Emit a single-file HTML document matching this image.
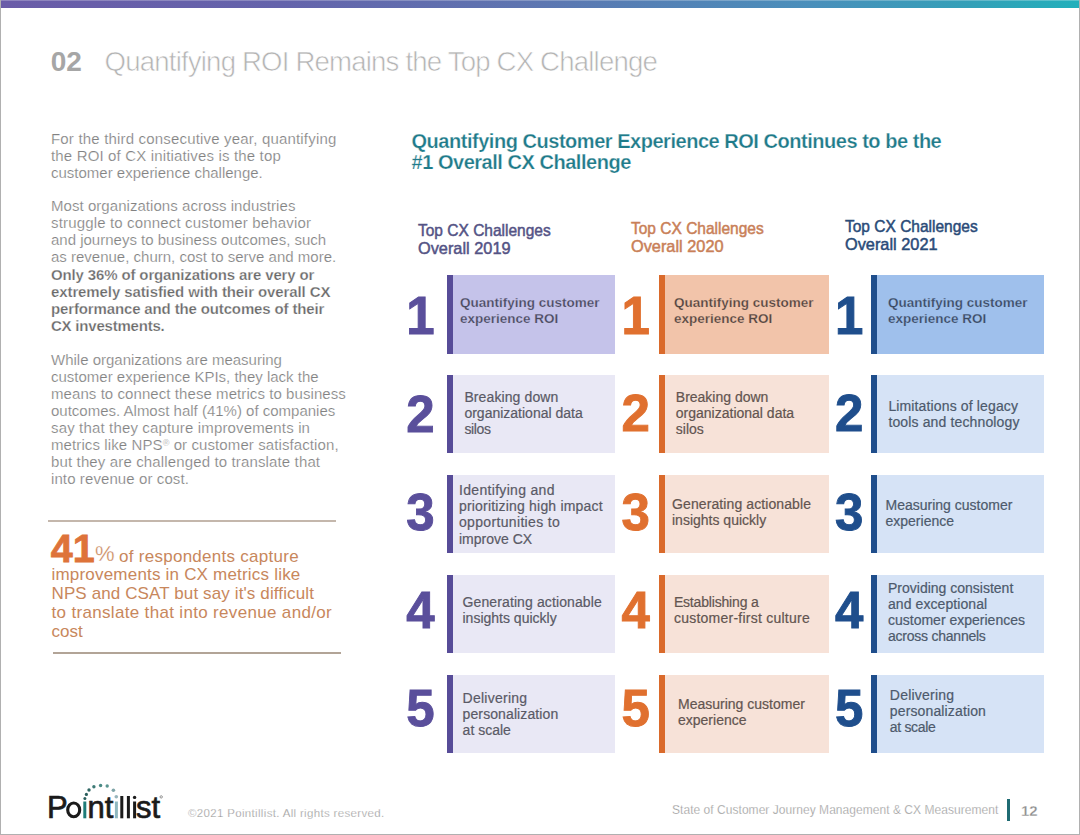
<!DOCTYPE html>
<html><head><meta charset="utf-8"><style>
html,body{margin:0;padding:0;background:#fff;}
body{width:1080px;height:835px;position:relative;overflow:hidden;font-family:"Liberation Sans", sans-serif;}
.t{position:absolute;white-space:pre;}
.r{position:absolute;}
</style></head><body>
<div class="r" style="left:0px;top:0px;width:1080px;height:8px;background:linear-gradient(90deg,#6a5ca8 0%,#6463ab 26%,#5e74b0 48%,#4a8fbb 75%,#33a0b8 90%,#22b0bb 100%);"></div>
<div class="r" style="left:0px;top:0px;width:1080px;height:1px;background:rgba(255,255,255,0.25);"></div>
<div class="r" style="left:0px;top:0px;width:1px;height:835px;background:#b0b0b0;"></div>
<div class="r" style="left:1079px;top:0px;width:1px;height:835px;background:#b0b0b0;"></div>
<div class="r" style="left:0px;top:834px;width:1080px;height:1px;background:#b0b0b0;"></div>
<div class="t" style="left:50.80px;top:47.10px;font-size:28px;line-height:30px;color:#a6a6a6;font-weight:700;">02</div>
<div class="t" style="left:104.60px;top:47.24px;font-size:27.6px;line-height:30px;color:#b4b4b4;font-weight:400;letter-spacing:-0.82px;-webkit-text-stroke:0.6px #fff;">Quantifying ROI Remains the Top CX Challenge</div>
<div class="t" style="left:51.00px;top:129.90px;font-size:15px;line-height:17px;color:#828282;font-weight:400;-webkit-text-stroke:0.2px #fff;letter-spacing:0.181px;">For the third consecutive year, quantifying</div>
<div class="t" style="left:51.00px;top:146.90px;font-size:15px;line-height:17px;color:#828282;font-weight:400;-webkit-text-stroke:0.2px #fff;letter-spacing:0.157px;">the ROI of CX initiatives is the top</div>
<div class="t" style="left:51.00px;top:163.90px;font-size:15px;line-height:17px;color:#828282;font-weight:400;-webkit-text-stroke:0.2px #fff;letter-spacing:0.000px;">customer experience challenge.</div>
<div class="t" style="left:51.00px;top:197.30px;font-size:15px;line-height:17px;color:#828282;font-weight:400;-webkit-text-stroke:0.2px #fff;letter-spacing:0.051px;">Most organizations across industries</div>
<div class="t" style="left:51.00px;top:214.30px;font-size:15px;line-height:17px;color:#828282;font-weight:400;-webkit-text-stroke:0.2px #fff;letter-spacing:0.158px;">struggle to connect customer behavior</div>
<div class="t" style="left:51.00px;top:231.30px;font-size:15px;line-height:17px;color:#828282;font-weight:400;-webkit-text-stroke:0.2px #fff;letter-spacing:0.000px;">and journeys to business outcomes, such</div>
<div class="t" style="left:51.00px;top:248.30px;font-size:15px;line-height:17px;color:#828282;font-weight:400;-webkit-text-stroke:0.2px #fff;letter-spacing:0.000px;">as revenue, churn, cost to serve and more.</div>
<div class="t" style="left:51.00px;top:266.30px;font-size:15px;line-height:17px;color:#6a6a6a;font-weight:700;-webkit-text-stroke:0.25px #fff;letter-spacing:-0.139px;">Only 36% of organizations are very or</div>
<div class="t" style="left:51.00px;top:283.30px;font-size:15px;line-height:17px;color:#6a6a6a;font-weight:700;-webkit-text-stroke:0.25px #fff;letter-spacing:-0.100px;">extremely satisfied with their overall CX</div>
<div class="t" style="left:51.00px;top:300.30px;font-size:15px;line-height:17px;color:#6a6a6a;font-weight:700;-webkit-text-stroke:0.25px #fff;letter-spacing:-0.139px;">performance and the outcomes of their</div>
<div class="t" style="left:51.00px;top:317.30px;font-size:15px;line-height:17px;color:#6a6a6a;font-weight:700;-webkit-text-stroke:0.25px #fff;letter-spacing:-0.214px;">CX investments.</div>
<div class="t" style="left:51.00px;top:350.50px;font-size:15px;line-height:17px;color:#828282;font-weight:400;-webkit-text-stroke:0.2px #fff;letter-spacing:0.000px;">While organizations are measuring</div>
<div class="t" style="left:51.00px;top:367.50px;font-size:15px;line-height:17px;color:#828282;font-weight:400;-webkit-text-stroke:0.2px #fff;letter-spacing:0.000px;">customer experience KPIs, they lack the</div>
<div class="t" style="left:51.00px;top:384.50px;font-size:15px;line-height:17px;color:#828282;font-weight:400;-webkit-text-stroke:0.2px #fff;letter-spacing:0.073px;">means to connect these metrics to business</div>
<div class="t" style="left:51.00px;top:401.50px;font-size:15px;line-height:17px;color:#828282;font-weight:400;-webkit-text-stroke:0.2px #fff;letter-spacing:0.000px;">outcomes. Almost half (41%) of companies</div>
<div class="t" style="left:51.00px;top:418.50px;font-size:15px;line-height:17px;color:#828282;font-weight:400;-webkit-text-stroke:0.2px #fff;letter-spacing:0.153px;">say that they capture improvements in</div>
<div class="t" style="left:51.00px;top:435.50px;font-size:15px;line-height:17px;color:#828282;font-weight:400;-webkit-text-stroke:0.2px #fff;letter-spacing:0.100px;">metrics like NPS<span style="font-size:9px;vertical-align:4px;line-height:0">®</span> or customer satisfaction,</div>
<div class="t" style="left:51.00px;top:452.50px;font-size:15px;line-height:17px;color:#828282;font-weight:400;-webkit-text-stroke:0.2px #fff;letter-spacing:0.138px;">but they are challenged to translate that</div>
<div class="t" style="left:51.00px;top:469.50px;font-size:15px;line-height:17px;color:#828282;font-weight:400;-webkit-text-stroke:0.2px #fff;letter-spacing:0.100px;">into revenue or cost.</div>
<div class="r" style="left:48px;top:520px;width:288px;height:2px;background:#c4b7ac;"></div>
<div class="r" style="left:53px;top:652px;width:288px;height:1.5px;background:#b2a497;"></div>
<div class="t" style="left:50.80px;top:527.71px;font-size:39.5px;line-height:40px;color:#de733a;font-weight:700;-webkit-text-stroke:0.8px #de733a;">41</div>
<div class="t" style="left:95.00px;top:542.08px;font-size:22px;line-height:24px;color:#c8875c;font-weight:400;-webkit-text-stroke:0.3px #fff;">%</div>
<div class="t" style="left:119.00px;top:546.61px;font-size:17px;line-height:19px;color:#c8875c;font-weight:400;letter-spacing:0.276px;">of respondents capture</div>
<div class="t" style="left:51.50px;top:565.83px;font-size:17px;line-height:18.95px;color:#c8875c;font-weight:400;letter-spacing:0.200px;">improvements in CX metrics like</div>
<div class="t" style="left:51.50px;top:584.78px;font-size:17px;line-height:18.95px;color:#c8875c;font-weight:400;letter-spacing:0.118px;">NPS and CSAT but say it's difficult</div>
<div class="t" style="left:51.50px;top:603.73px;font-size:17px;line-height:18.95px;color:#c8875c;font-weight:400;letter-spacing:0.328px;">to translate that into revenue and/or</div>
<div class="t" style="left:51.50px;top:622.68px;font-size:17px;line-height:18.95px;color:#c8875c;font-weight:400;letter-spacing:0.000px;">cost</div>
<div class="t" style="left:411.50px;top:130.87px;font-size:20px;line-height:21px;color:#1f7b8a;font-weight:700;letter-spacing:-0.47px;-webkit-text-stroke:0.25px #fff;">Quantifying Customer Experience ROI Continues to be the<br>#1 Overall CX Challenge</div>
<div class="t" style="left:417.60px;top:222.21px;font-size:17px;line-height:17.8px;color:#545385;font-weight:400;transform:scaleX(0.912);transform-origin:0 0;-webkit-text-stroke:0.5px #545385;">Top CX Challenges</div>
<div class="t" style="left:417.60px;top:240.31px;font-size:17px;line-height:17.8px;color:#545385;font-weight:400;transform:scaleX(0.96);transform-origin:0 0;-webkit-text-stroke:0.5px #545385;">Overall 2019</div>
<div class="r" style="left:447px;top:275px;width:168px;height:79px;background:#c5c3ea;"></div>
<div class="r" style="left:447px;top:275px;width:6px;height:79px;background:#574c98;"></div>
<div class="t num" style="left:390.5px;width:60px;text-align:center;top:290.58px;font-size:51px;line-height:52px;color:#5a4f9b;font-weight:700;-webkit-text-stroke:0.9px #5a4f9b"><span style="display:inline-block;transform:scaleY(1.05);transform-origin:50% 84%">1</span></div>
<div class="t" style="left:460.00px;top:295.17px;font-size:13.5px;line-height:16.3px;color:#4a4a5c;font-weight:700;-webkit-text-stroke:0.25px #c5c3ea;letter-spacing:0.000px;">Quantifying customer</div>
<div class="t" style="left:460.00px;top:311.47px;font-size:13.5px;line-height:16.3px;color:#4a4a5c;font-weight:700;-webkit-text-stroke:0.25px #c5c3ea;letter-spacing:0.000px;">experience ROI</div>
<div class="r" style="left:447px;top:375px;width:168px;height:78px;background:#e9e8f5;"></div>
<div class="r" style="left:447px;top:375px;width:6px;height:78px;background:#574c98;"></div>
<div class="t num" style="left:390.5px;width:60px;text-align:center;top:388.78px;font-size:51px;line-height:52px;color:#5a4f9b;font-weight:700;-webkit-text-stroke:0.9px #5a4f9b">2</div>
<div class="t" style="left:464.40px;top:389.00px;font-size:14px;line-height:16.1px;color:#5a5a66;font-weight:400;-webkit-text-stroke:0.2px #5a5a66;letter-spacing:0.108px;">Breaking down</div>
<div class="t" style="left:464.40px;top:405.10px;font-size:14px;line-height:16.1px;color:#5a5a66;font-weight:400;-webkit-text-stroke:0.2px #5a5a66;letter-spacing:0.000px;">organizational data</div>
<div class="t" style="left:464.40px;top:421.20px;font-size:14px;line-height:16.1px;color:#5a5a66;font-weight:400;-webkit-text-stroke:0.2px #5a5a66;letter-spacing:-0.350px;">silos</div>
<div class="r" style="left:447px;top:475px;width:168px;height:78px;background:#e9e8f5;"></div>
<div class="r" style="left:447px;top:475px;width:6px;height:78px;background:#574c98;"></div>
<div class="t num" style="left:390.5px;width:60px;text-align:center;top:486.58px;font-size:51px;line-height:52px;color:#5a4f9b;font-weight:700;-webkit-text-stroke:0.9px #5a4f9b">3</div>
<div class="t" style="left:459.00px;top:482.20px;font-size:14px;line-height:16.1px;color:#5a5a66;font-weight:400;-webkit-text-stroke:0.2px #5a5a66;letter-spacing:0.314px;">Identifying and</div>
<div class="t" style="left:459.00px;top:498.30px;font-size:14px;line-height:16.1px;color:#5a5a66;font-weight:400;-webkit-text-stroke:0.2px #5a5a66;letter-spacing:0.187px;">prioritizing high impact</div>
<div class="t" style="left:459.00px;top:514.40px;font-size:14px;line-height:16.1px;color:#5a5a66;font-weight:400;-webkit-text-stroke:0.2px #5a5a66;letter-spacing:0.333px;">opportunities to</div>
<div class="t" style="left:459.00px;top:530.50px;font-size:14px;line-height:16.1px;color:#5a5a66;font-weight:400;-webkit-text-stroke:0.2px #5a5a66;letter-spacing:0.000px;">improve CX</div>
<div class="r" style="left:447px;top:575px;width:168px;height:78px;background:#e9e8f5;"></div>
<div class="r" style="left:447px;top:575px;width:6px;height:78px;background:#574c98;"></div>
<div class="t num" style="left:390.5px;width:60px;text-align:center;top:585.38px;font-size:51px;line-height:52px;color:#5a4f9b;font-weight:700;-webkit-text-stroke:0.9px #5a4f9b">4</div>
<div class="t" style="left:462.50px;top:594.30px;font-size:14px;line-height:16.1px;color:#5a5a66;font-weight:400;-webkit-text-stroke:0.2px #5a5a66;letter-spacing:0.115px;">Generating actionable</div>
<div class="t" style="left:462.50px;top:610.40px;font-size:14px;line-height:16.1px;color:#5a5a66;font-weight:400;-webkit-text-stroke:0.2px #5a5a66;letter-spacing:0.000px;">insights quickly</div>
<div class="r" style="left:447px;top:675px;width:168px;height:78px;background:#e9e8f5;"></div>
<div class="r" style="left:447px;top:675px;width:6px;height:78px;background:#574c98;"></div>
<div class="t num" style="left:390.5px;width:60px;text-align:center;top:682.58px;font-size:51px;line-height:52px;color:#5a4f9b;font-weight:700;-webkit-text-stroke:0.9px #5a4f9b">5</div>
<div class="t" style="left:462.60px;top:689.80px;font-size:14px;line-height:16.1px;color:#5a5a66;font-weight:400;-webkit-text-stroke:0.2px #5a5a66;letter-spacing:0.256px;">Delivering</div>
<div class="t" style="left:462.60px;top:705.90px;font-size:14px;line-height:16.1px;color:#5a5a66;font-weight:400;-webkit-text-stroke:0.2px #5a5a66;letter-spacing:0.100px;">personalization</div>
<div class="t" style="left:462.60px;top:722.00px;font-size:14px;line-height:16.1px;color:#5a5a66;font-weight:400;-webkit-text-stroke:0.2px #5a5a66;letter-spacing:0.000px;">at scale</div>
<div class="t" style="left:631.20px;top:219.81px;font-size:17px;line-height:17.8px;color:#c98058;font-weight:400;transform:scaleX(0.912);transform-origin:0 0;-webkit-text-stroke:0.5px #c98058;">Top CX Challenges</div>
<div class="t" style="left:631.20px;top:237.91px;font-size:17px;line-height:17.8px;color:#c98058;font-weight:400;transform:scaleX(0.96);transform-origin:0 0;-webkit-text-stroke:0.5px #c98058;">Overall 2020</div>
<div class="r" style="left:659px;top:275px;width:170px;height:79px;background:#f2c4aa;"></div>
<div class="r" style="left:659px;top:275px;width:6px;height:79px;background:#da6a2b;"></div>
<div class="t num" style="left:605.8px;width:60px;text-align:center;top:290.58px;font-size:51px;line-height:52px;color:#e0702f;font-weight:700;-webkit-text-stroke:0.9px #e0702f"><span style="display:inline-block;transform:scaleY(1.05);transform-origin:50% 84%">1</span></div>
<div class="t" style="left:673.90px;top:295.17px;font-size:13.5px;line-height:16.3px;color:#4f4541;font-weight:700;-webkit-text-stroke:0.25px #f2c4aa;letter-spacing:0.000px;">Quantifying customer</div>
<div class="t" style="left:673.90px;top:311.47px;font-size:13.5px;line-height:16.3px;color:#4f4541;font-weight:700;-webkit-text-stroke:0.25px #f2c4aa;letter-spacing:0.000px;">experience ROI</div>
<div class="r" style="left:659px;top:375px;width:170px;height:78px;background:#f7e2d8;"></div>
<div class="r" style="left:659px;top:375px;width:6px;height:78px;background:#da6a2b;"></div>
<div class="t num" style="left:605.8px;width:60px;text-align:center;top:388.28px;font-size:51px;line-height:52px;color:#e0702f;font-weight:700;-webkit-text-stroke:0.9px #e0702f">2</div>
<div class="t" style="left:675.80px;top:389.00px;font-size:14px;line-height:16.1px;color:#635550;font-weight:400;-webkit-text-stroke:0.2px #635550;letter-spacing:0.000px;">Breaking down</div>
<div class="t" style="left:675.80px;top:405.10px;font-size:14px;line-height:16.1px;color:#635550;font-weight:400;-webkit-text-stroke:0.2px #635550;letter-spacing:0.000px;">organizational data</div>
<div class="t" style="left:675.80px;top:421.20px;font-size:14px;line-height:16.1px;color:#635550;font-weight:400;-webkit-text-stroke:0.2px #635550;letter-spacing:0.000px;">silos</div>
<div class="r" style="left:659px;top:475px;width:170px;height:78px;background:#f7e2d8;"></div>
<div class="r" style="left:659px;top:475px;width:6px;height:78px;background:#da6a2b;"></div>
<div class="t num" style="left:605.8px;width:60px;text-align:center;top:486.58px;font-size:51px;line-height:52px;color:#e0702f;font-weight:700;-webkit-text-stroke:0.9px #e0702f">3</div>
<div class="t" style="left:672.00px;top:495.60px;font-size:14px;line-height:16.1px;color:#635550;font-weight:400;-webkit-text-stroke:0.2px #635550;letter-spacing:0.100px;">Generating actionable</div>
<div class="t" style="left:672.00px;top:511.70px;font-size:14px;line-height:16.1px;color:#635550;font-weight:400;-webkit-text-stroke:0.2px #635550;letter-spacing:0.000px;">insights quickly</div>
<div class="r" style="left:659px;top:575px;width:170px;height:78px;background:#f7e2d8;"></div>
<div class="r" style="left:659px;top:575px;width:6px;height:78px;background:#da6a2b;"></div>
<div class="t num" style="left:605.8px;width:60px;text-align:center;top:584.98px;font-size:51px;line-height:52px;color:#e0702f;font-weight:700;-webkit-text-stroke:0.9px #e0702f">4</div>
<div class="t" style="left:673.90px;top:593.90px;font-size:14px;line-height:16.1px;color:#635550;font-weight:400;-webkit-text-stroke:0.2px #635550;letter-spacing:-0.177px;">Establishing a</div>
<div class="t" style="left:673.90px;top:610.00px;font-size:14px;line-height:16.1px;color:#635550;font-weight:400;-webkit-text-stroke:0.2px #635550;letter-spacing:0.243px;">customer-first culture</div>
<div class="r" style="left:659px;top:675px;width:170px;height:78px;background:#f7e2d8;"></div>
<div class="r" style="left:659px;top:675px;width:6px;height:78px;background:#da6a2b;"></div>
<div class="t num" style="left:605.8px;width:60px;text-align:center;top:682.78px;font-size:51px;line-height:52px;color:#e0702f;font-weight:700;-webkit-text-stroke:0.9px #e0702f">5</div>
<div class="t" style="left:678.00px;top:696.20px;font-size:14px;line-height:16.1px;color:#635550;font-weight:400;-webkit-text-stroke:0.2px #635550;letter-spacing:0.000px;">Measuring customer</div>
<div class="t" style="left:678.00px;top:712.30px;font-size:14px;line-height:16.1px;color:#635550;font-weight:400;-webkit-text-stroke:0.2px #635550;letter-spacing:0.000px;">experience</div>
<div class="t" style="left:845.00px;top:217.81px;font-size:17px;line-height:17.8px;color:#2a4b78;font-weight:400;transform:scaleX(0.912);transform-origin:0 0;-webkit-text-stroke:0.5px #2a4b78;">Top CX Challenges</div>
<div class="t" style="left:845.00px;top:235.91px;font-size:17px;line-height:17.8px;color:#2a4b78;font-weight:400;transform:scaleX(0.96);transform-origin:0 0;-webkit-text-stroke:0.5px #2a4b78;">Overall 2021</div>
<div class="r" style="left:871px;top:275px;width:173px;height:79px;background:#9fc0ec;"></div>
<div class="r" style="left:871px;top:275px;width:6px;height:79px;background:#1f4e8c;"></div>
<div class="t num" style="left:819.2px;width:60px;text-align:center;top:290.98px;font-size:51px;line-height:52px;color:#1f4e8c;font-weight:700;-webkit-text-stroke:0.9px #1f4e8c"><span style="display:inline-block;transform:scaleY(1.05);transform-origin:50% 84%">1</span></div>
<div class="t" style="left:888.00px;top:295.17px;font-size:13.5px;line-height:16.3px;color:#3c4a60;font-weight:700;-webkit-text-stroke:0.25px #9fc0ec;letter-spacing:0.000px;">Quantifying customer</div>
<div class="t" style="left:888.00px;top:311.47px;font-size:13.5px;line-height:16.3px;color:#3c4a60;font-weight:700;-webkit-text-stroke:0.25px #9fc0ec;letter-spacing:0.000px;">experience ROI</div>
<div class="r" style="left:871px;top:375px;width:173px;height:78px;background:#d6e3f6;"></div>
<div class="r" style="left:871px;top:375px;width:6px;height:78px;background:#1f4e8c;"></div>
<div class="t num" style="left:819.2px;width:60px;text-align:center;top:388.28px;font-size:51px;line-height:52px;color:#1f4e8c;font-weight:700;-webkit-text-stroke:0.9px #1f4e8c">2</div>
<div class="t" style="left:888.40px;top:398.10px;font-size:14px;line-height:16.1px;color:#4d5a6c;font-weight:400;-webkit-text-stroke:0.2px #4d5a6c;letter-spacing:0.135px;">Limitations of legacy</div>
<div class="t" style="left:888.40px;top:414.20px;font-size:14px;line-height:16.1px;color:#4d5a6c;font-weight:400;-webkit-text-stroke:0.2px #4d5a6c;letter-spacing:0.137px;">tools and technology</div>
<div class="r" style="left:871px;top:475px;width:173px;height:78px;background:#d6e3f6;"></div>
<div class="r" style="left:871px;top:475px;width:6px;height:78px;background:#1f4e8c;"></div>
<div class="t num" style="left:819.2px;width:60px;text-align:center;top:486.98px;font-size:51px;line-height:52px;color:#1f4e8c;font-weight:700;-webkit-text-stroke:0.9px #1f4e8c">3</div>
<div class="t" style="left:885.50px;top:496.60px;font-size:14px;line-height:16.1px;color:#4d5a6c;font-weight:400;-webkit-text-stroke:0.2px #4d5a6c;letter-spacing:0.000px;">Measuring customer</div>
<div class="t" style="left:885.50px;top:512.70px;font-size:14px;line-height:16.1px;color:#4d5a6c;font-weight:400;-webkit-text-stroke:0.2px #4d5a6c;letter-spacing:0.000px;">experience</div>
<div class="r" style="left:871px;top:575px;width:173px;height:78px;background:#d6e3f6;"></div>
<div class="r" style="left:871px;top:575px;width:6px;height:78px;background:#1f4e8c;"></div>
<div class="t num" style="left:819.2px;width:60px;text-align:center;top:585.48px;font-size:51px;line-height:52px;color:#1f4e8c;font-weight:700;-webkit-text-stroke:0.9px #1f4e8c">4</div>
<div class="t" style="left:888.00px;top:580.10px;font-size:14px;line-height:16.1px;color:#4d5a6c;font-weight:400;-webkit-text-stroke:0.2px #4d5a6c;letter-spacing:0.000px;">Providing consistent</div>
<div class="t" style="left:888.00px;top:596.20px;font-size:14px;line-height:16.1px;color:#4d5a6c;font-weight:400;-webkit-text-stroke:0.2px #4d5a6c;letter-spacing:0.079px;">and exceptional</div>
<div class="t" style="left:888.00px;top:612.30px;font-size:14px;line-height:16.1px;color:#4d5a6c;font-weight:400;-webkit-text-stroke:0.2px #4d5a6c;letter-spacing:0.000px;">customer experiences</div>
<div class="t" style="left:888.00px;top:628.40px;font-size:14px;line-height:16.1px;color:#4d5a6c;font-weight:400;-webkit-text-stroke:0.2px #4d5a6c;letter-spacing:-0.236px;">across channels</div>
<div class="r" style="left:871px;top:675px;width:173px;height:78px;background:#d6e3f6;"></div>
<div class="r" style="left:871px;top:675px;width:6px;height:78px;background:#1f4e8c;"></div>
<div class="t num" style="left:819.2px;width:60px;text-align:center;top:683.48px;font-size:51px;line-height:52px;color:#1f4e8c;font-weight:700;-webkit-text-stroke:0.9px #1f4e8c">5</div>
<div class="t" style="left:889.80px;top:686.80px;font-size:14px;line-height:16.1px;color:#4d5a6c;font-weight:400;-webkit-text-stroke:0.2px #4d5a6c;letter-spacing:0.222px;">Delivering</div>
<div class="t" style="left:889.80px;top:702.90px;font-size:14px;line-height:16.1px;color:#4d5a6c;font-weight:400;-webkit-text-stroke:0.2px #4d5a6c;letter-spacing:0.136px;">personalization</div>
<div class="t" style="left:889.80px;top:719.00px;font-size:14px;line-height:16.1px;color:#4d5a6c;font-weight:400;-webkit-text-stroke:0.2px #4d5a6c;letter-spacing:-0.329px;">at scale</div>
<div class="t" style="left:188.00px;top:806.62px;font-size:11.5px;line-height:13px;color:#959595;font-weight:400;letter-spacing:0.33px;-webkit-text-stroke:0.25px #fff;">©2021 Pointillist. All rights reserved.</div>
<div class="t" style="left:672.00px;top:804.24px;font-size:12px;line-height:13px;color:#959595;font-weight:400;letter-spacing:0.04px;-webkit-text-stroke:0.25px #fff;">State of Customer Journey Management &amp; CX Measurement</div>
<div class="r" style="left:1007px;top:799px;width:3px;height:22px;background:#1f6b73;"></div>
<div class="t" style="left:1021.00px;top:801.50px;font-size:15px;line-height:17px;color:#8c8c8c;font-weight:700;-webkit-text-stroke:0.3px #fff;">12</div>
<svg class="r" style="left:40px;top:775px" width="130" height="50" viewBox="40 775 130 50">
<g font-family="Liberation Sans" font-size="31" fill="#1b1b1b" stroke="#1b1b1b" stroke-width="0.7">
<text x="47" y="818.3">P</text><text x="87.5" y="818.3">n</text><text x="104.8" y="818.3">t</text>
<text x="136" y="818.3">s</text><text x="151.5" y="818.3">t</text>
</g>
<ellipse cx="73.7" cy="809.9" rx="6.0" ry="6.9" fill="none" stroke="#1b1b1b" stroke-width="3.1"/>
<rect x="83.3" y="801.5" width="3" height="16.8" fill="#1f7c78"/>
<rect x="114.9" y="801.5" width="3" height="16.8" fill="#8fb8c0"/>
<rect x="120.3" y="796" width="3" height="22.3" fill="#1b1b1b"/>
<rect x="126.9" y="796" width="3" height="22.3" fill="#1b1b1b"/>
<rect x="133.1" y="801.5" width="3" height="16.8" fill="#1b1b1b"/>
<circle cx="134.6" cy="797.4" r="1.7" fill="#1b1b1b"/>
<circle cx="84.9" cy="798.6" r="1.5" fill="#2a5e5c"/>
<circle cx="86.4" cy="794.4" r="1.6" fill="#2a5e5c"/>
<circle cx="89.0" cy="790.0" r="1.7" fill="#2f6663"/>
<circle cx="93.9" cy="786.7" r="1.7" fill="#3d7a76"/>
<circle cx="100.6" cy="785.5" r="1.7" fill="#4a8a85"/>
<circle cx="107.2" cy="786.0" r="1.7" fill="#5a9590"/>
<circle cx="113.4" cy="790.2" r="1.8" fill="#80a5a8"/>
<circle cx="116.3" cy="796.8" r="1.8" fill="#98b5bb"/>
<circle cx="161.2" cy="796.9" r="1.2" fill="none" stroke="#555" stroke-width="0.6"/>
</svg>
</body></html>
